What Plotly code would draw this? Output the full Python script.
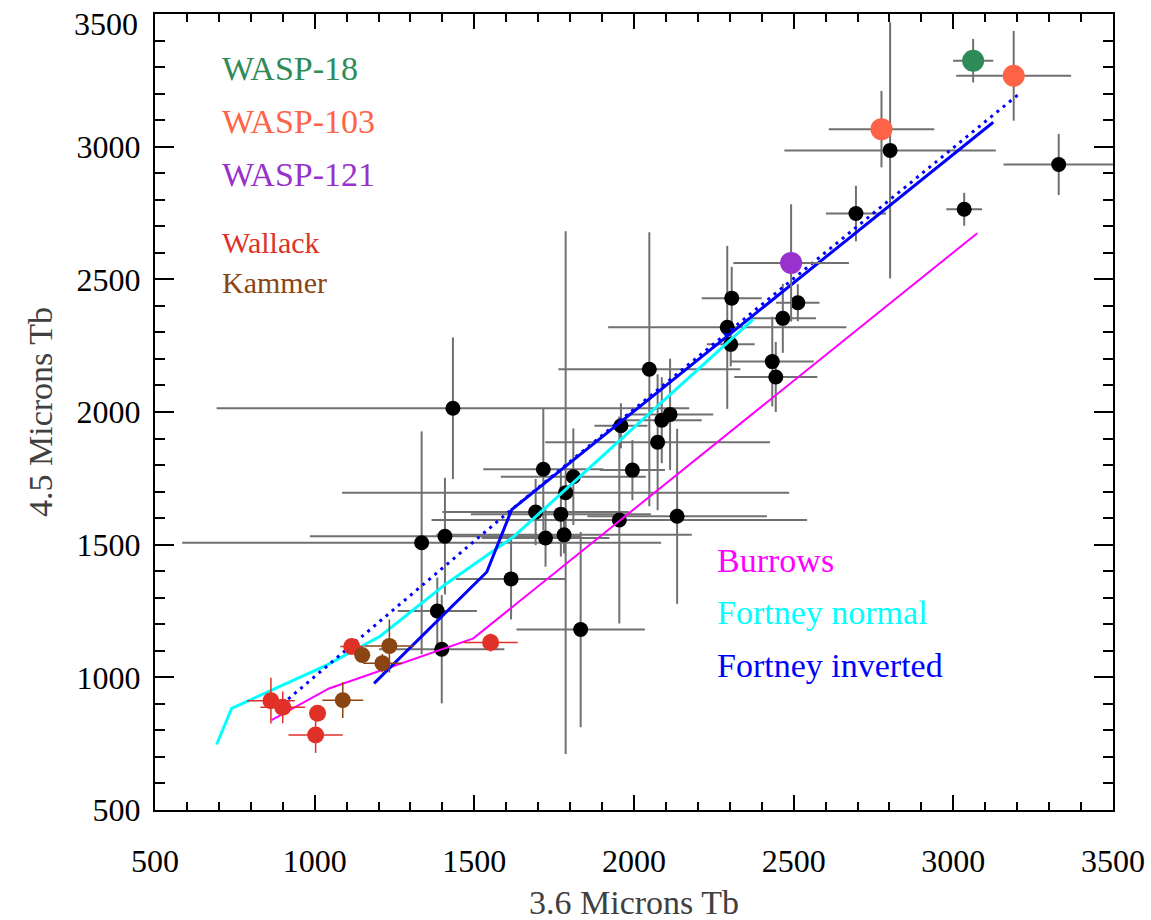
import plotly.graph_objects as go

# Brightness temperatures (K) at 3.6 and 4.5 microns
black_x = [1433, 1335, 1408, 1384, 1398, 1615, 1833, 1716, 1810, 1786, 1692,
           1771, 1723, 1781, 1954, 2135, 1959, 1995, 2074, 2087, 2113, 2048,
           2306, 2292, 2303, 2433, 2444, 2466, 2513, 2695, 2802, 3034, 3330]
black_y = [2014, 1507, 1532, 1250, 1106, 1371, 1180, 1784, 1756, 1696, 1623,
           1615, 1525, 1537, 1593, 1607, 1948, 1781, 1886, 1969, 1991, 2161,
           2429, 2319, 2255, 2190, 2132, 2353, 2412, 2748, 2986, 2764, 2933]
black_xerr = [740, 750, 423, 124, 196, 172, 201, 188, 227, 700, 292,
              282, 200, 400, 588, 281, 83, 102, 352, 125, 135, 285,
              94, 373, 75, 130, 130, 104, 68, 94, 331, 56, 173]
black_yerr = [267, 420, 220, 126, 204, 153, 368, 230, 182, 985, 125,
              160, 108, 70, 390, 330, 85, 113, 256, 162, 210, 516,
              118, 307, 83, 169, 132, 130, 70, 105, 483, 62, 115]

wasp18_x, wasp18_y, wasp18_xerr, wasp18_yerr = [3062], [3324], [63], [82]
wasp103_x, wasp103_y = [3189, 2775], [3267, 3066]
wasp103_xerr, wasp103_yerr = [180, 165], [169, 144]
wasp121_x, wasp121_y, wasp121_xerr, wasp121_yerr = [2492], [2562], [181], [221]

wallack_x = [1116, 1551, 863, 900, 1009, 1003]
wallack_y = [1116, 1131, 912, 887, 865, 783]
wallack_xerr = [36, 85, 75, 70, 20, 85]
wallack_yerr = [20, 34, 86, 60, 30, 68]

kammer_x = [1149, 1234, 1212, 1088]
kammer_y = [1084, 1118, 1053, 914]
kammer_xerr = [25, 78, 60, 64]
kammer_yerr = [30, 100, 35, 67]

# Model tracks
burrows_x = [865, 1045, 1497, 3075]
burrows_y = [839, 958, 1147, 2674]
fortney_normal_x = [693, 740, 1038, 1205, 1413, 1622, 2373]
fortney_normal_y = [747, 883, 1046, 1155, 1354, 1529, 2349]
fortney_inv_x = [1186, 1539, 1617, 3125]
fortney_inv_y = [977, 1397, 1632, 3092]
fortney_inv_dot_x = [917, 1621, 3203]
fortney_inv_dot_y = [918, 1637, 3196]

tick_vals = [500, 1000, 1500, 2000, 2500, 3000, 3500]
x_tick_text = ["500", "1000", "1500", "2000", "2500", "3000", "3500"]
# the top y label is placed separately so it stays inside the page
y_tick_text = ["500", "1000", "1500", "2000", "2500", "3000", ""]

GRAY = "#707070"
SERIF = "Liberation Serif"

fig = go.Figure()


def points(x, y, xe, ye, color, size, ecolor, ew):
    fig.add_trace(go.Scatter(
        x=x, y=y, mode="markers",
        marker=dict(color=color, size=size, line=dict(width=0)),
        error_x=dict(type="data", array=xe, visible=True, color=ecolor,
                     thickness=ew, width=0),
        error_y=dict(type="data", array=ye, visible=True, color=ecolor,
                     thickness=ew, width=0),
        showlegend=False, hoverinfo="skip"))


def track(x, y, color, width, dash="solid"):
    fig.add_trace(go.Scatter(
        x=x, y=y, mode="lines", line=dict(color=color, width=width, dash=dash),
        showlegend=False, hoverinfo="skip"))


points(black_x, black_y, black_xerr, black_yerr, "black", 15, GRAY, 2)

track(burrows_x, burrows_y, "#FF00FF", 2)
track(fortney_normal_x, fortney_normal_y, "#00FFFF", 3)
track(fortney_inv_x, fortney_inv_y, "#0000FF", 3)
track(fortney_inv_dot_x, fortney_inv_dot_y, "#0000FF", 3, "3px,5px")

points(wallack_x, wallack_y, wallack_xerr, wallack_yerr, "#E03128", 17, "#E03128", 1.5)
points(kammer_x, kammer_y, kammer_xerr, kammer_yerr, "#8B4513", 16, "#8B4513", 1.5)
points(wasp18_x, wasp18_y, wasp18_xerr, wasp18_yerr, "#2E8B57", 22, GRAY, 2)
points(wasp103_x, wasp103_y, wasp103_xerr, wasp103_yerr, "#FF6347", 22, GRAY, 2)
points(wasp121_x, wasp121_y, wasp121_xerr, wasp121_yerr, "#9932CC", 22, GRAY, 2)

W, H = 1151, 920
L, R, T, B = 155, 38, 14, 110
pw, ph = W - L - R, H - T - B


def px(xp):
    return (xp - L) / pw


def py(yp):
    return (H - B - yp) / ph


labels = [
    ("WASP-18", "#2E8B57", 220, 68, 34),
    ("WASP-103", "#FF6347", 220, 121, 34),
    ("WASP-121", "#9932CC", 220, 174, 34),
    ("Wallack", "#E03128", 220, 242, 30),
    ("Kammer", "#8B4513", 220, 282, 30),
    ("Burrows", "#FF00FF", 715, 560, 34),
    ("Fortney normal", "#00FFFF", 715, 612, 34),
    ("Fortney inverted", "#0000FF", 715, 665, 34),
]
for text, color, xl, yc, fs in labels:
    fig.add_annotation(text=text, xref="paper", yref="paper", x=px(xl), y=py(yc),
                       xanchor="left", yanchor="middle", showarrow=False,
                       font=dict(family=SERIF, size=fs, color=color))

fig.add_annotation(text="3500", xref="paper", yref="paper", x=px(140), y=py(24),
                   xanchor="right", yanchor="middle", showarrow=False,
                   font=dict(family=SERIF, size=32, color="black"))

fig.add_annotation(text="3.6 Microns Tb", xref="paper", yref="paper",
                   x=0.5, y=py(903), xanchor="center", yanchor="middle",
                   showarrow=False, font=dict(family=SERIF, size=34, color="#404040"))
fig.add_annotation(text="4.5 Microns Tb", xref="paper", yref="paper",
                   x=px(40), y=py(412), xanchor="center", yanchor="middle",
                   textangle=-90, showarrow=False,
                   font=dict(family=SERIF, size=34, color="#404040"))

axis_common = dict(
    range=[500, 3500], tickmode="array", tickvals=tick_vals, ticks="inside",
    tickwidth=2, tickcolor="black", showline=True, linewidth=2,
    linecolor="black", mirror="allticks", showgrid=False, zeroline=False,
    automargin=False, tickfont=dict(family=SERIF, size=32, color="black"),
)
fig.update_xaxes(**axis_common, ticktext=x_tick_text, ticklen=15,
                 ticklabelstandoff=22,
                 minor=dict(tick0=500, dtick=100, ticks="inside", ticklen=8,
                            tickwidth=1.5, tickcolor="black", showgrid=False))
fig.update_yaxes(**axis_common, ticktext=y_tick_text, ticklen=19,
                 ticklabelstandoff=6,
                 minor=dict(tick0=500, dtick=100, ticks="inside", ticklen=10,
                            tickwidth=1.5, tickcolor="black", showgrid=False))

fig.update_layout(width=W, height=H, margin=dict(l=L, r=R, t=T, b=B),
                  plot_bgcolor="white", paper_bgcolor="white")

fig.write_html("out.html")
